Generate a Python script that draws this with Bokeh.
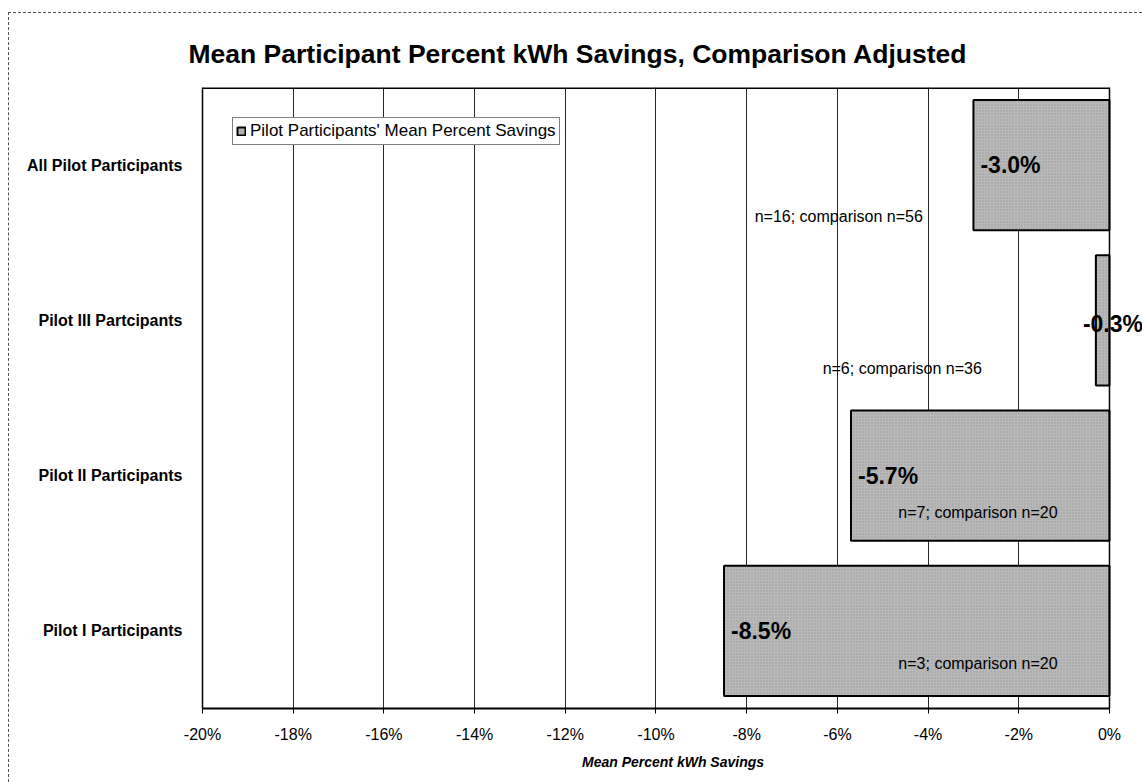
from bokeh.plotting import figure
from bokeh.models import (ColumnDataSource, Range1d, FixedTicker,
                          PrintfTickFormatter, Label, Span)
from bokeh.embed import file_html
from bokeh.resources import INLINE

# --- data -------------------------------------------------------------
groups = ["All Pilot Participants", "Pilot III Partcipants",
          "Pilot II Participants", "Pilot I Participants"]
mean_savings_pct = [-3.0, -0.3, -5.7, -8.5]
participants_n = [16, 6, 7, 3]
comparison_n = [56, 36, 20, 20]
x_ticks = [-20, -18, -16, -14, -12, -10, -8, -6, -4, -2, 0]

# placement of the sample-size notes (x in axis units, y shift in px)
note_x = [-5.97, -4.57, -2.9, -2.9]
note_dy = [-51, -48, -37, -33]

FONT = "Liberation Sans"
X_MIN, X_MAX = -20, 0
X_PAD = 0.75   # blank strip right of 0% so a value label can run past it

# groups run top to bottom; slot centres sit at k + 0.5
n_groups = len(groups)
slot = [n_groups - 0.5 - i for i in range(n_groups)]

src = ColumnDataSource(dict(
    slot=slot,
    value=mean_savings_pct,
    zero=[0] * n_groups,
))

p = figure(
    width=1134, height=770,
    y_range=Range1d(0, n_groups),
    x_range=Range1d(X_MIN, X_MAX + X_PAD),
    output_backend="svg", toolbar_location=None,
    min_border_left=193, min_border_right=0,
    min_border_top=74, min_border_bottom=75,
    title="Mean Participant Percent kWh Savings, Comparison Adjusted",
)
p.margin = (12, 0, 0, 8)
p.styles = {"border-top": "1px dashed #555", "border-left": "1px dashed #555"}

p.background_fill_color = "white"
p.border_fill_color = "white"
p.outline_line_color = None

p.title.text_font = FONT
p.title.text_font_size = "26.5px"
p.title.text_font_style = "bold"
p.title.text_color = "black"
p.title.align = "left"
p.title.offset = -14
p.title.standoff = 37

# plot-area border: top edge and the 0% edge
p.segment(x0=[X_MIN], x1=[X_MAX], y0=[n_groups], y1=[n_groups],
          line_color="black", line_width=3)
p.add_layout(Span(location=X_MAX, dimension="height",
                  line_color="black", line_width=1.5))

# bars
p.hbar(y="slot", left="value", right="zero", height=0.84, source=src,
       fill_color="#b9b9b9", line_color="black", line_width=2,
       hatch_pattern="dot", hatch_color="#5e5e5e", hatch_scale=3,
       hatch_weight=1, hatch_alpha=0.35,
       legend_label="Pilot Participants' Mean Percent Savings")

# value labels and sample-size notes, one annotation per bar
for s, v, a, b, nx, ndy in zip(slot, mean_savings_pct, participants_n,
                               comparison_n, note_x, note_dy):
    narrow = abs(v) < 1
    p.add_layout(Label(x=v, y=s, text="%.1f%%" % v,
                       x_offset=-13 if narrow else 7,
                       y_offset=-4 if narrow else 0,
                       text_align="left", text_baseline="middle",
                       text_font=FONT, text_font_size="23px",
                       text_font_style="bold", text_color="black"))
    p.add_layout(Label(x=nx, y=s, y_offset=ndy,
                       text="n=%d; comparison n=%d" % (a, b),
                       text_align="center", text_baseline="middle",
                       text_font=FONT, text_font_size="16px",
                       text_color="black"))

# axes
xa = p.xaxis[0]
xa.bounds = (X_MIN, X_MAX)
xa.ticker = FixedTicker(ticks=x_ticks)
xa.formatter = PrintfTickFormatter(format="%d%%")
xa.axis_label = "Mean Percent kWh Savings"
xa.axis_label_text_font = FONT
xa.axis_label_text_font_size = "14px"
xa.axis_label_text_font_style = "bold italic"
xa.axis_label_text_color = "black"
xa.axis_label_standoff = 8
xa.major_label_text_font = FONT
xa.major_label_text_font_size = "16px"
xa.major_label_text_color = "black"
xa.major_label_standoff = 12
xa.axis_line_color = "black"
xa.axis_line_width = 2
xa.major_tick_line_color = "black"
xa.major_tick_out = 5
xa.major_tick_in = 0
xa.minor_tick_line_color = None

ya = p.yaxis[0]
ya.ticker = FixedTicker(ticks=slot)
ya.major_label_overrides = {s: g for s, g in zip(slot, groups)}
ya.major_label_text_font = FONT
ya.major_label_text_font_size = "16px"
ya.major_label_text_font_style = "bold"
ya.major_label_text_color = "black"
ya.major_label_standoff = 14
ya.axis_line_color = "black"
ya.axis_line_width = 1.5
ya.major_tick_line_color = None
ya.minor_tick_line_color = None

p.xgrid.ticker = FixedTicker(ticks=x_ticks)
p.xgrid.grid_line_color = "black"
p.xgrid.grid_line_width = 1
p.xgrid.grid_line_alpha = 0.85
p.ygrid.grid_line_color = None

lg = p.legend[0]
lg.location = "top_left"
lg.margin = 30
lg.border_line_color = "black"
lg.border_line_width = 1
lg.background_fill_color = "white"
lg.background_fill_alpha = 1
lg.label_text_font = FONT
lg.label_text_font_size = "17px"
lg.label_text_color = "black"
lg.label_height = 17
lg.glyph_width = 10
lg.glyph_height = 10
lg.label_standoff = 4
lg.padding = 3
lg.spacing = 0

open("out.html", "w").write(file_html(p, INLINE))
